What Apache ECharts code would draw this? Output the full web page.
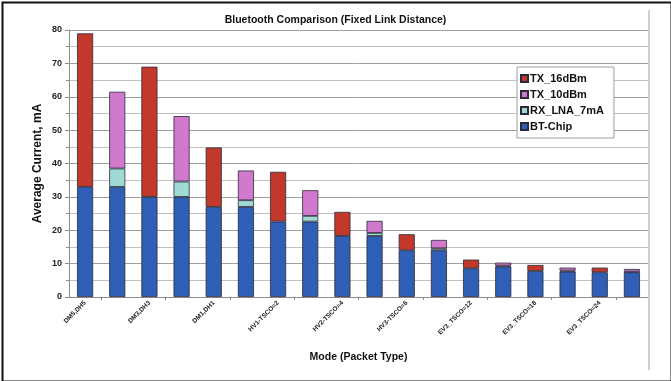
<!DOCTYPE html>
<html>
<head>
<meta charset="utf-8">
<script src="https://cdn.jsdelivr.net/npm/echarts@6/dist/echarts.min.js"></script>
<style>
  html, body { margin: 0; padding: 0; background: #fff; }
  #chart { width: 671px; height: 381px; }
</style>
</head>
<body>
<div id="chart"></div>
<script>
// Packet-type modes; each mode is measured twice (16 dBm PA, then 10 dBm PA + LNA)
const modes = ['DM5,DH5', 'DM3,DH3', 'DM1,DH1', 'HV1-TSCO=2', 'HV2-TSCO=4',
               'HV3-TSCO=6', 'EV3_TSCO=12', 'EV3_TSCO=18', 'EV3_TSCO=24'];
const categories = modes.flatMap(m => [m, m + ' (10dBm+LNA)']);

// Average current contributions, mA ('-' = component not present in that configuration)
const btChip   = [33, 33, 30, 30, 27, 27, 22.6, 22.6, 18.3, 18.3, 14, 14, 8.6, 9.1, 7.8, 7.6, 7.4, 7.4];
const rxLna    = ['-', 5.5, '-', 4.6, '-', 2.0, '-', 1.7, '-', 0.9, '-', 0.6, '-', 0.3, '-', 0.3, '-', 0.2];
const tx10dBm  = ['-', 23, '-', 19.6, '-', 8.9, '-', 7.7, '-', 3.6, '-', 2.5, '-', 0.9, '-', 0.9, '-', 0.8];
const tx16dBm  = [46, '-', 39, '-', 17.8, '-', 14.9, '-', 7.2, '-', 4.8, '-', 2.6, '-', 1.8, '-', 1.4, '-'];

const yTicks = { min: 0, max: 80, interval: 10 };

const FONT = '"Liberation Sans", Arial, sans-serif';
const edge = { borderColor: '#2a2a3a', borderWidth: 0.8 };

const chart = echarts.init(document.getElementById('chart'), null, { renderer: 'canvas' });

function barSeries(name, data, color) {
  return {
    name, type: 'bar', stack: 'total', data,
    barWidth: '50%',
    itemStyle: Object.assign({ color }, edge)
  };
}

chart.setOption({
  animation: false,
  backgroundColor: '#ffffff',
  textStyle: { fontFamily: FONT },
  title: {
    text: 'Bluetooth Comparison (Fixed Link Distance)',
    left: 'center', top: 10,
    textStyle: { fontFamily: FONT, fontSize: 10.5, fontWeight: 'bold', color: '#111' }
  },
  grid: { left: 69, right: 23, top: 30, bottom: 84 },
  legend: {
    orient: 'vertical',
    left: 517, top: 67,
    data: ['TX_16dBm', 'TX_10dBm', 'RX_LNA_7mA', 'BT-Chip'],
    icon: 'rect', itemWidth: 7, itemHeight: 7, itemGap: 5,
    backgroundColor: '#ffffff', borderColor: '#a0a0a0', borderWidth: 1,
    padding: [6, 10, 6, 3],
    textStyle: { fontFamily: FONT, fontSize: 11, fontWeight: 'bold', color: '#111', padding: [0, 0, 0, -3] }
  },
  xAxis: {
    type: 'category',
    data: categories,
    name: 'Mode (Packet Type)',
    nameLocation: 'middle', nameGap: 55,
    nameTextStyle: { fontFamily: FONT, fontSize: 10.5, fontWeight: 'bold', color: '#111' },
    axisLine: { lineStyle: { color: '#8c8c8c', width: 1 } },
    axisTick: { show: true, length: 3, lineStyle: { color: '#8c8c8c' },
                interval: (i) => i % 2 === 1 },
    axisLabel: { interval: 1, rotate: 45, fontSize: 6.5, fontWeight: 'bold',
                 color: '#222', margin: 5, fontFamily: FONT }
  },
  yAxis: {
    type: 'value',
    min: yTicks.min, max: yTicks.max, interval: yTicks.interval,
    name: 'Average Current, mA',
    nameLocation: 'middle', nameGap: 25, nameMoveOverlap: false,
    nameTextStyle: { fontFamily: FONT, fontSize: 12, fontWeight: 'bold', color: '#111' },
    axisLine: { show: true, lineStyle: { color: '#8c8c8c', width: 1 } },
    axisTick: { show: true, length: 4, lineStyle: { color: '#8c8c8c' } },
    minorTick: { show: true, splitNumber: 2, length: 3, lineStyle: { color: '#8c8c8c' } },
    axisLabel: { fontSize: 9, fontWeight: 'bold', color: '#222', margin: 7, fontFamily: FONT },
    splitLine: { lineStyle: { color: '#a0a0a0', width: 1 } },
    minorSplitLine: { show: true, lineStyle: { color: '#c0c0c0', width: 1 } }
  },
  graphic: [
    { type: 'rect', left: 0, top: 0, silent: true, z: 100,
      shape: { x: 1, y: 1, width: 669, height: 379 },
      style: { fill: null, stroke: '#111', lineWidth: 2 } },
    { type: 'line', silent: true, z: 90,
      shape: { x1: 649, y1: 10, x2: 649, y2: 370 },
      style: { stroke: '#cfcfcf', lineWidth: 2 } }
  ],
  series: [
    barSeries('BT-Chip', btChip, '#2f5fb6'),
    barSeries('RX_LNA_7mA', rxLna, '#9fdbd4'),
    barSeries('TX_10dBm', tx10dBm, '#d179cc'),
    barSeries('TX_16dBm', tx16dBm, '#c2392b')
  ]
});
</script>
</body>
</html>
